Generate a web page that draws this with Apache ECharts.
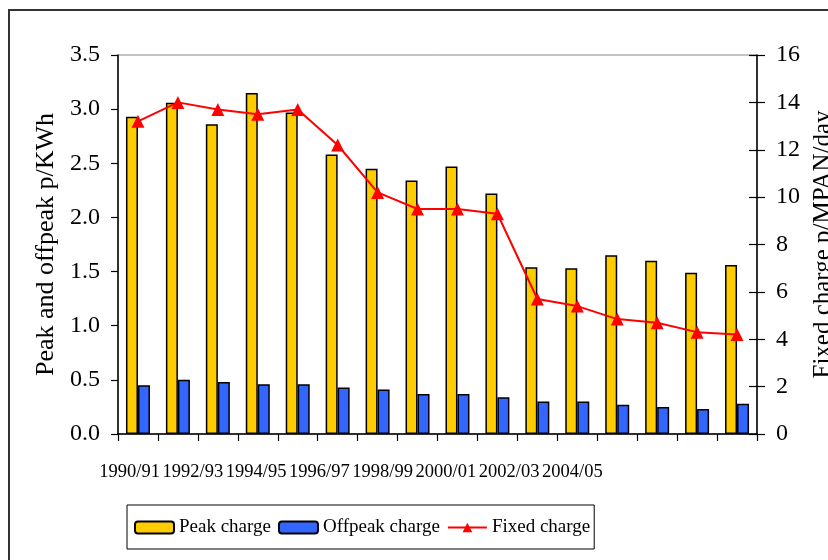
<!DOCTYPE html>
<html>
<head>
<meta charset="utf-8">
<script src="https://cdn.jsdelivr.net/npm/echarts@6/dist/echarts.min.js"></script>
<style>
  html, body { margin: 0; padding: 0; background: #fff; }
  #main { width: 828px; height: 560px; }
</style>
</head>
<body>
<div id="main"></div>
<script>
// data
const years = ["1990/91", "1991/92", "1992/93", "1993/94", "1994/95", "1995/96", "1996/97", "1997/98",
  "1998/99", "1999/00", "2000/01", "2001/02", "2002/03", "2003/04", "2004/05", "2005/06"];
const peak = [2.93, 3.06, 2.86, 3.15, 2.97, 2.58, 2.45, 2.34, 2.47, 2.22, 1.54, 1.53, 1.65, 1.60, 1.49, 1.56];
const offpeak = [0.45, 0.50, 0.48, 0.46, 0.46, 0.43, 0.41, 0.37, 0.37, 0.34, 0.30, 0.30, 0.27, 0.25, 0.23, 0.28];
const fixed = [13.2, 14.0, 13.7, 13.5, 13.7, 12.2, 10.2, 9.5, 9.5, 9.3, 5.7, 5.4, 4.85, 4.7, 4.3, 4.2];
// every other year is labelled
const yearLabels = years.filter((y, i) => i % 2 === 0);

const font = "Liberation Serif";

// warm the font up before echarts measures and draws text
(function () {
  let c = document.createElement("canvas");
  c.width = 400; c.height = 40;
  let ctx = c.getContext("2d");
  [18, 19, 24, 25, 26].forEach(s => {
    ctx.font = s + "px " + font;
    ctx.measureText("Peak charge 0123456789./");
    ctx.fillText("Peak charge Offpeak Fixed 0123456789./", 0, 30);
  });
})();

let option = {
  backgroundColor: "#fff",
  animation: false,
  textStyle: { fontFamily: font, color: "#000" },
  graphic: [
    {
      type: "rect",
      shape: { x: 9, y: 10, width: 1000, height: 1000 },
      style: { fill: "none", stroke: "#333", lineWidth: 2 }
    }
  ],
  legend: {
    left: 127,
    top: 505,
    padding: [13, 4, 12, 7],
    borderColor: "#000",
    borderWidth: 1,
    itemWidth: 39,
    itemHeight: 12,
    itemGap: 7,
    textStyle: { fontFamily: font, fontSize: 19, color: "#000" },
    data: ["Peak charge", "Offpeak charge", "Fixed charge"]
  },
  grid: [
    { left: 118, right: 71, top: 55, bottom: 126, show: true, borderColor: "#888", borderWidth: 1,
      containLabel: false, outerBoundsMode: "none" },
    // labels only: the original puts the year labels closer together than the ticks
    { left: 98, width: 506, top: 55, bottom: 126, containLabel: false, outerBoundsMode: "none" }
  ],
  xAxis: [
    {
      type: "category",
      data: years,
      gridIndex: 0,
      boundaryGap: true,
      axisLine: { lineStyle: { color: "#000", width: 1.5 } },
      axisTick: { show: true, interval: 0, length: 7, lineStyle: { color: "#000", width: 1.2 } },
      axisLabel: { show: false }
    },
    {
      type: "category",
      data: yearLabels,
      gridIndex: 1,
      axisLine: { show: false },
      axisTick: { show: false },
      axisLabel: { interval: 0, margin: 29, fontFamily: font, fontSize: 18.5, color: "#000" }
    }
  ],
  yAxis: [
    {
      type: "value",
      min: 0,
      max: 3.5,
      interval: 0.5,
      name: "Peak and offpeak p/KWh",
      nameLocation: "middle",
      nameGap: 56,
      nameRotate: 90,
      nameTextStyle: { fontFamily: font, fontSize: 26, color: "#000" },
      axisLine: { show: true, lineStyle: { color: "#000", width: 1.5 } },
      axisTick: { show: true, length: 7, lineStyle: { color: "#000", width: 1.2 } },
      axisLabel: { margin: 18, fontFamily: font, fontSize: 24, color: "#000", formatter: v => v.toFixed(1) },
      splitLine: { show: false }
    },
    {
      type: "value",
      min: 0,
      max: 16,
      interval: 2,
      position: "right",
      name: "Fixed charge p/MPAN/day",
      nameLocation: "middle",
      nameGap: 46,
      nameRotate: 90,
      nameTextStyle: { fontFamily: font, fontSize: 25, color: "#000" },
      axisLine: { show: true, lineStyle: { color: "#000", width: 1.5 } },
      axisTick: { show: true, length: 8, lineStyle: { color: "#000", width: 1.2 } },
      axisLabel: { margin: 19, fontFamily: font, fontSize: 24, color: "#000" },
      splitLine: { show: false }
    },
    {
      // inner half of the cross ticks on the right axis
      type: "value",
      min: 0,
      max: 16,
      interval: 2,
      position: "right",
      axisLine: { show: false },
      axisTick: { show: true, inside: true, length: 8, lineStyle: { color: "#000", width: 1.2 } },
      axisLabel: { show: false },
      splitLine: { show: false }
    },
    { type: "value", gridIndex: 1, show: false }
  ],
  series: [
    {
      name: "Peak charge",
      type: "bar",
      yAxisIndex: 0,
      barWidth: 12,
      barGap: "0%",
      itemStyle: { color: "#FFCC00", borderColor: "#000", borderWidth: 1.5 },
      data: peak
    },
    {
      name: "Offpeak charge",
      type: "bar",
      yAxisIndex: 0,
      barWidth: 12,
      barGap: "0%",
      itemStyle: { color: "#3366FF", borderColor: "#000", borderWidth: 1.5 },
      data: offpeak
    },
    {
      name: "Fixed charge",
      type: "line",
      yAxisIndex: 1,
      symbol: "triangle",
      symbolSize: 13,
      itemStyle: { color: "#FF0000" },
      lineStyle: { color: "#FF0000", width: 2 },
      z: 5,
      data: fixed
    }
  ]
};

let myChart = null;
function draw() {
  if (myChart) myChart.dispose();
  myChart = echarts.init(document.getElementById("main"));
  myChart.setOption(option);
}

draw();
// draw again from scratch once the font is surely in
setTimeout(draw, 200);
setTimeout(draw, 700);
</script>
</body>
</html>
